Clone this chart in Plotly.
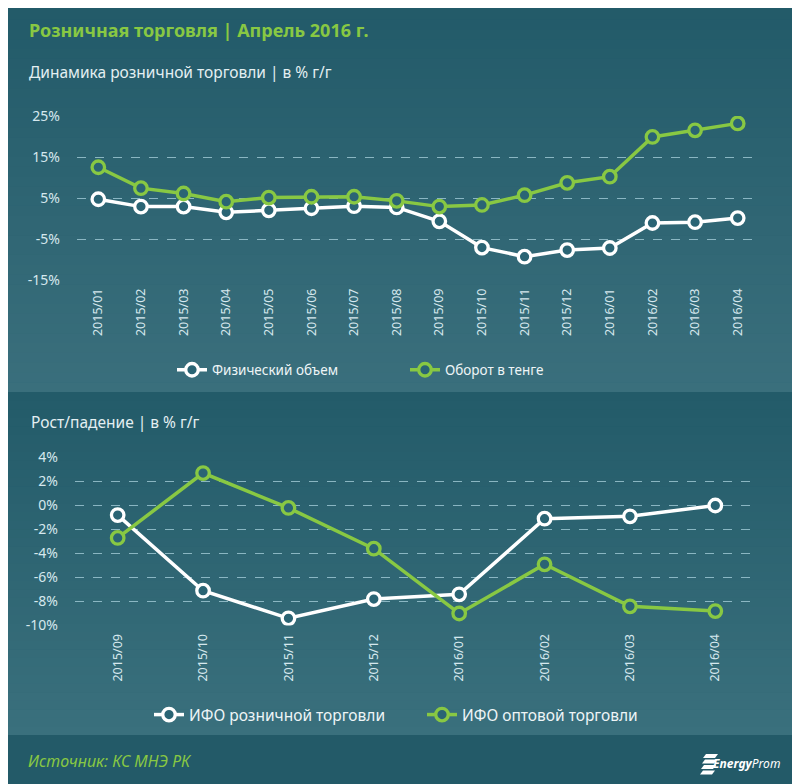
import plotly.graph_objects as go

# ---------------- data ----------------
months_top = ["2015/01", "2015/02", "2015/03", "2015/04", "2015/05", "2015/06", "2015/07", "2015/08",
              "2015/09", "2015/10", "2015/11", "2015/12", "2016/01", "2016/02", "2016/03", "2016/04"]
phys_volume = [4.7, 2.9, 2.9, 1.5, 2.0, 2.5, 3.0, 2.7, -0.7, -7.1, -9.3, -7.7, -7.2, -1.1, -0.9, 0.1]
turnover_kzt = [12.5, 7.4, 6.1, 4.1, 5.1, 5.3, 5.3, 4.3, 2.9, 3.3, 5.7, 8.7, 10.2, 19.9, 21.5, 23.2]

months_bottom = ["2015/09", "2015/10", "2015/11", "2015/12", "2016/01", "2016/02", "2016/03", "2016/04"]
retail_ifo = [-0.8, -7.1, -9.4, -7.8, -7.4, -1.1, -0.9, 0.0]
wholesale_ifo = [-2.7, 2.7, -0.2, -3.6, -9.0, -4.9, -8.4, -8.8]

top_tick_vals = [-15, -5, 5, 15, 25]
top_tick_text = ["-15%", "-5%", "5%", "15%", "25%"]
bottom_tick_vals = [-10, -8, -6, -4, -2, 0, 2, 4]
bottom_tick_text = ["-10%", "-8%", "-6%", "-4%", "-2%", "0%", "2%", "4%"]

# ---------------- styling ----------------
OFF = 8                      # page body margin
W, H = 800 - OFF, 784 - OFF  # figure size that fits the window
WHITE = "#ffffff"
GREEN = "#88c843"
TXT = "#d6e8ee"
GRID = "rgba(170,210,222,0.75)"
FONT = "Noto Sans"

def py(sy):
    return 1 - (sy - OFF) / H

def px_x(sx):
    return (sx - OFF) / W

def hexmix(c1, c2, t):
    a = [int(c1[i:i + 2], 16) for i in (1, 3, 5)]
    b = [int(c2[i:i + 2], 16) for i in (1, 3, 5)]
    return "#" + "".join(f"{round(a[k] + (b[k] - a[k]) * t):02x}" for k in range(3))

shapes = []

def gradient(y0, y1, c_top, c_bot, n=40, x0=0, x1=800):
    step = (y1 - y0) / n
    for i in range(n):
        shapes.append(dict(type="rect", xref="paper", yref="paper", layer="below",
                           x0=px_x(x0), x1=px_x(x1), y0=py(y0 + (i + 1) * step + 0.5), y1=py(y0 + i * step),
                           fillcolor=hexmix(c_top, c_bot, i / (n - 1)), line=dict(width=0)))

gradient(0, 392, "#225a69", "#3a6f7c")
gradient(392, 735, "#235b69", "#3a707d")
shapes.append(dict(type="rect", xref="paper", yref="paper", layer="below",
                   x0=px_x(0), x1=px_x(800), y0=py(790), y1=py(735), fillcolor="#235a68", line=dict(width=0)))
shapes.append(dict(type="rect", xref="paper", yref="paper", layer="below",
                   x0=px_x(796), x1=px_x(801), y0=py(790), y1=py(0), fillcolor="#1d5060", line=dict(width=0)))

# logo stripes
for k, yy in enumerate([754, 759.5, 765, 770.5]):
    x0 = 703 - k * 1.0
    shapes.append(dict(type="path", xref="paper", yref="paper", layer="above",
                       path=f"M {px_x(x0 + 3)} {py(yy)} L {px_x(x0 + 15)} {py(yy)} "
                            f"L {px_x(x0 + 12)} {py(yy + 4)} L {px_x(x0)} {py(yy + 4)} Z",
                       fillcolor=WHITE, line=dict(width=0)))

fig = go.Figure()

def add_line(x, y, name, color, xa, ya, legend):
    fig.add_trace(go.Scatter(
        x=x, y=y, name=name, mode="lines+markers", xaxis=xa, yaxis=ya, legend=legend,
        line=dict(color=color, width=3.5),
        marker=dict(symbol="circle", size=12.5, color="#2a6474", line=dict(color=color, width=3.3)),
        hoverinfo="x+y",
    ))

add_line(months_top, phys_volume, "Физический объем", WHITE, "x", "y", "legend")
add_line(months_top, turnover_kzt, "Оборот в тенге", GREEN, "x", "y", "legend")
add_line(months_bottom, retail_ifo, "ИФО розничной торговли", WHITE, "x2", "y2", "legend2")
add_line(months_bottom, wholesale_ifo, "ИФО оптовой торговли", GREEN, "x2", "y2", "legend2")

axis_common = dict(showline=False, zeroline=False, ticks="", fixedrange=True, automargin=False)

annotations = [
    dict(text="<b>Розничная торговля | Апрель 2016 г.</b>", x=px_x(27), y=py(30), xanchor="left",
         yanchor="middle", showarrow=False, xref="paper", yref="paper",
         font=dict(family=FONT, size=18, color=GREEN)),
    dict(text="Динамика розничной торговли | в % г/г", x=px_x(27), y=py(72), xanchor="left",
         yanchor="middle", showarrow=False, xref="paper", yref="paper",
         font=dict(family=FONT, size=15.5, color="#e4eff2")),
    dict(text="Рост/падение | в % г/г", x=px_x(29), y=py(422), xanchor="left",
         yanchor="middle", showarrow=False, xref="paper", yref="paper",
         font=dict(family=FONT, size=15.5, color="#e4eff2")),
    dict(text="<i>Источник: КС МНЭ РК</i>", x=px_x(26), y=py(761), xanchor="left",
         yanchor="middle", showarrow=False, xref="paper", yref="paper",
         font=dict(family=FONT, size=16, color=GREEN)),
    dict(text="<b><i>Energy</i></b><i>Prom</i>", x=px_x(782), y=py(763), xanchor="right",
         yanchor="middle", showarrow=False, xref="paper", yref="paper",
         font=dict(family=FONT, size=12, color=WHITE)),
]

fig.update_layout(
    template="none",
    width=W, height=H,
    margin=dict(l=0, r=0, t=0, b=0, pad=0, autoexpand=False),
    paper_bgcolor="#235a68",
    plot_bgcolor="rgba(0,0,0,0)",
    font=dict(family=FONT, color=TXT),
    showlegend=True,
    hovermode="closest",
    shapes=shapes,
    annotations=annotations,
    xaxis=dict(domain=[px_x(77), px_x(759)], anchor="y", type="category", range=[-0.5, 15.5],
               showgrid=False, tickangle=-90, tickfont=dict(size=12.5, color=TXT), ticklabelstandoff=5,
               **axis_common),
    yaxis=dict(domain=[py(280), py(116)], anchor="x", range=[-15, 25], tickmode="array",
               tickvals=top_tick_vals, ticktext=top_tick_text,
               showgrid=True, gridcolor=GRID, griddash="dash", gridwidth=1,
               tickfont=dict(size=14, color=TXT), ticklabelstandoff=16, **axis_common),
    xaxis2=dict(domain=[px_x(75), px_x(758)], anchor="y2", type="category", range=[-0.5, 7.5],
                showgrid=False, tickangle=-90, tickfont=dict(size=12.5, color=TXT), ticklabelstandoff=5,
                **axis_common),
    yaxis2=dict(domain=[py(625.5), py(457.5)], anchor="x2", range=[-10, 4], tickmode="array",
                tickvals=bottom_tick_vals, ticktext=bottom_tick_text,
                showgrid=True, gridcolor=GRID, griddash="dash", gridwidth=1,
                tickfont=dict(size=14, color=TXT), ticklabelstandoff=16, **axis_common),
    legend=dict(orientation="h", x=px_x(172), xanchor="left", y=py(370), yanchor="middle",
                bgcolor="rgba(0,0,0,0)", font=dict(size=13.5, color="#eef5f7"), itemwidth=30,
                entrywidth=188, tracegroupgap=0),
    legend2=dict(orientation="h", x=px_x(149), xanchor="left", y=py(715), yanchor="middle",
                 bgcolor="rgba(0,0,0,0)", font=dict(size=15.5, color="#eef5f7"), itemwidth=30,
                 entrywidth=228, tracegroupgap=0),
)

fig.write_html("out.html")
